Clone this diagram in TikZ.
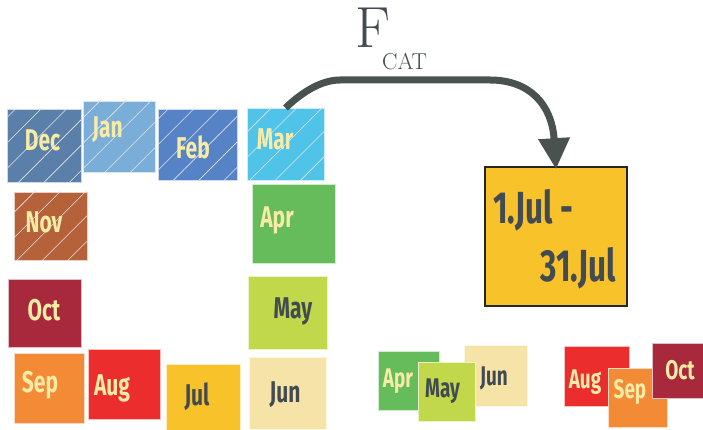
\documentclass[tikz,border=0pt]{standalone}
\usepackage{fontspec}
\usetikzlibrary{patterns.meta,arrows.meta}
\newfontfamily\mfont[FakeStretch=0.7]{Fira Sans}
\definecolor{cDec}{HTML}{5A7FA8}
\definecolor{cJan}{HTML}{7AAED8}
\definecolor{cFeb}{HTML}{5583C5}
\definecolor{cMar}{HTML}{4FC3E8}
\definecolor{cNov}{HTML}{B5613A}
\definecolor{cApr}{HTML}{66BB5A}
\definecolor{cOct}{HTML}{A8283C}
\definecolor{cMay}{HTML}{C0D84A}
\definecolor{cSep}{HTML}{F28A36}
\definecolor{cAug}{HTML}{EC2D2E}
\definecolor{cJul}{HTML}{F8C22A}
\definecolor{cJun}{HTML}{F5E3A8}
\definecolor{lightt}{HTML}{F8EBA6}
\definecolor{darkt}{HTML}{434B52}
\definecolor{arrowc}{HTML}{4A5250}
\tikzset{
  mbox/.style={rectangle,inner sep=0pt,outer sep=0pt,draw=white!70!#1,line width=0.6pt,fill=#1},
  hatch/.style={postaction={pattern={Lines[angle=45,distance=18pt,line width=0.6pt]},pattern color=white!80!gray}},
  biglbl/.style={anchor=base,font=\mfont\bfseries\fontsize{30}{32}\selectfont,inner sep=0pt},
  smalllbl/.style={anchor=base,font=\mfont\bfseries\fontsize{27}{29}\selectfont,inner sep=0pt},
  arrowline/.style={draw=arrowc,line width=7pt,-{Triangle[width=30pt,length=31pt]}}
}
\begin{document}
\begin{tikzpicture}[x=1pt,y=-1pt]
\useasboundingbox[fill=white] (0,0) rectangle (703,430);
% big month boxes
\node[mbox=cDec,hatch,minimum width=74,minimum height=73] (dec) at (44,145.5) {};
\node[mbox=cJan,hatch,minimum width=72,minimum height=71] (jan) at (119,136.5) {};
\node[mbox=cFeb,hatch,minimum width=79,minimum height=71] (feb) at (197.5,144.5) {};
\node[mbox=cMar,hatch,minimum width=77,minimum height=72] (mar) at (285.5,144) {};
\node[mbox=cNov,hatch,minimum width=73,minimum height=68] (nov) at (50.5,226) {};
\node[mbox=cApr,minimum width=83,minimum height=79] (apr) at (293.5,223.5) {};
\node[mbox=cOct,minimum width=73,minimum height=68] (oct) at (44.5,313) {};
\node[mbox=cMay,minimum width=79,minimum height=73] (may) at (287.5,312.5) {};
\node[mbox=cSep,minimum width=70,minimum height=70] (sep) at (49,388) {};
\node[mbox=cAug,minimum width=72,minimum height=70] (aug) at (124,384) {};
\node[mbox=cJul,minimum width=74,minimum height=68] (jul) at (203,398) {};
\node[mbox=cJun,minimum width=77,minimum height=72] (jun) at (287.5,393) {};
% labels
\node[biglbl,text=lightt] (tdec) at (42.5,151) {Dec};
\node[biglbl,text=lightt] (tjan) at (107.5,138) {Jan};
\node[biglbl,text=lightt] (tfeb) at (193,158.5) {Feb};
\node[biglbl,text=lightt] (tmar) at (275,150) {Mar};
\node[biglbl,text=lightt] (tnov) at (44,233) {Nov};
\node[biglbl,text=lightt] (tapr) at (277,228) {Apr};
\node[biglbl,text=lightt] (toct) at (44,320) {Oct};
\node[biglbl,text=darkt] (tmay) at (293,318) {May};
\node[biglbl,text=lightt] (tsep) at (40,392) {Sep};
\node[biglbl,text=lightt] (taug) at (112,395) {Aug};
\node[biglbl,text=darkt] (tjul) at (197,405) {Jul};
\node[biglbl,text=darkt] (tjun) at (285,402) {Jun};
% target box
\node[rectangle,inner sep=0pt,fill=cJul,draw=black!85,line width=1.6pt,minimum width=142,minimum height=139] (big) at (556,236.5) {};
\node[anchor=base west,inner sep=0pt,text=darkt,font=\mfont\bfseries\fontsize{45}{47}\selectfont] (l1) at (493,223) {1.Jul -};
\node[anchor=base east,inner sep=0pt,text=darkt,font=\mfont\bfseries\fontsize{45}{47}\selectfont] (l2) at (616,281) {31.Jul};
% F_CAT
\node[anchor=base west,inner sep=0pt,text=darkt,font=\fontsize{58}{60}\selectfont] (f) at (355,48) {F};
\node[anchor=base west,inner sep=0pt,text=darkt,font=\fontsize{23}{25}\selectfont] (cat) at (382,70) {CAT};
% arrow
\coordinate (a1) at (340,80);
\coordinate (a2) at (490,80);
\draw[arrowline] (mar.north) .. controls (300,94) and (320,80) .. (a1) -- (a2) .. controls (530,80) and (552,105) .. ([yshift=-3pt]big.north);
% small groups
\node[mbox=cJun,minimum width=63,minimum height=61] (sjun) at (495.5,375.5) {};
\node[smalllbl,text=darkt] (tsjun) at (494,385) {Jun};
\node[mbox=cApr,minimum width=61,minimum height=59] (sapr) at (408.5,380.5) {};
\node[smalllbl,text=lightt] (tsapr) at (398,387) {Apr};
\node[mbox=cMay,minimum width=57,minimum height=59] (smay) at (446.5,391.5) {};
\node[smalllbl,text=darkt] (tsmay) at (442.5,397) {May};
\node[mbox=cAug,minimum width=65,minimum height=60] (saug) at (596.5,376) {};
\node[smalllbl,text=lightt] (tsaug) at (585,388) {Aug};
\node[mbox=cSep,minimum width=59,minimum height=59] (ssep) at (637.5,397.5) {};
\node[smalllbl,text=lightt] (tssep) at (630,398) {Sep};
\node[mbox=cOct,minimum width=53,minimum height=55] (soct) at (678.5,370.5) {};
\node[smalllbl,text=lightt] (tsoct) at (680,379) {Oct};
\end{tikzpicture}
\end{document}
